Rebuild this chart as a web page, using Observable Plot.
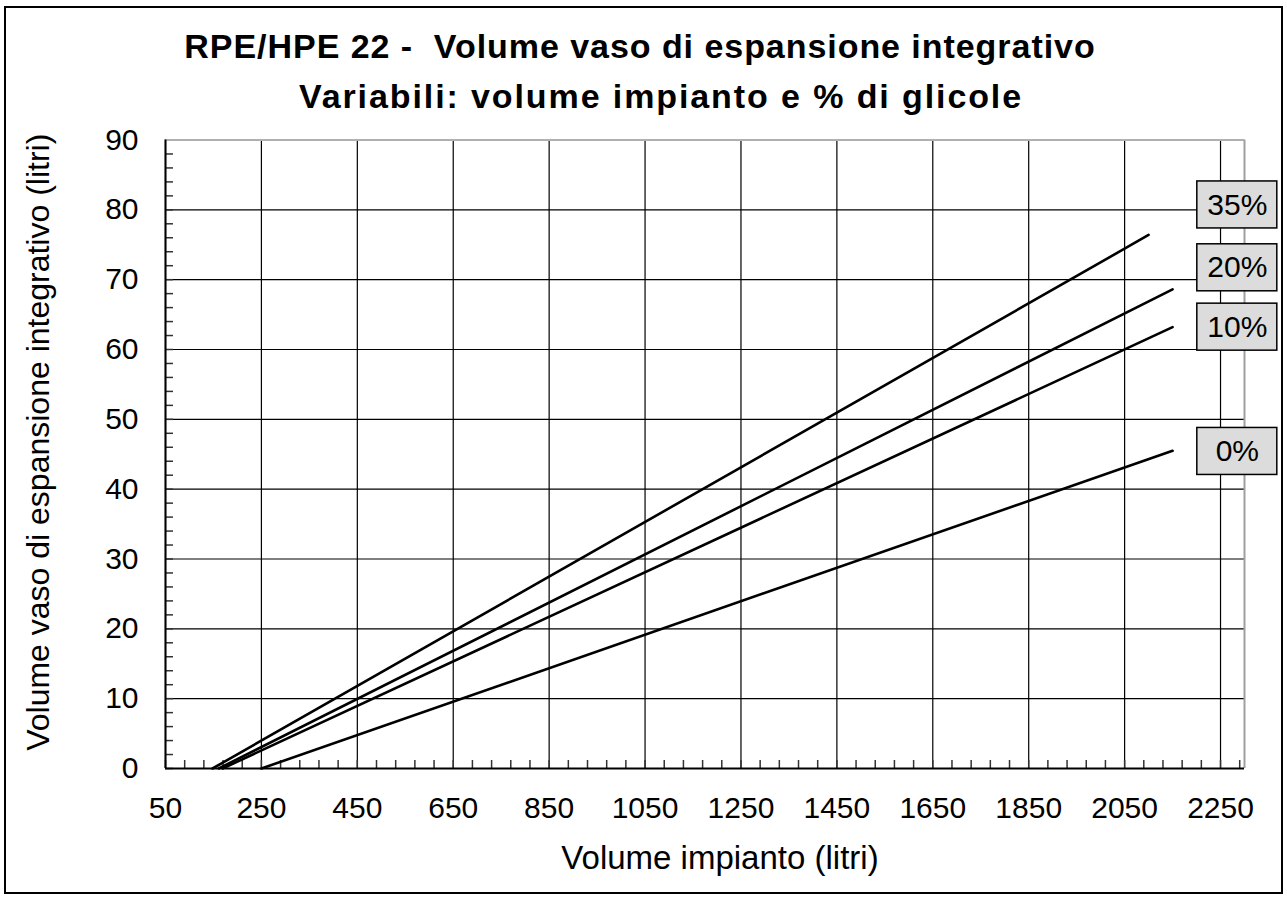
<!DOCTYPE html>
<html><head><meta charset="utf-8">
<script src="https://cdn.jsdelivr.net/npm/d3@7"></script>
<script src="https://cdn.jsdelivr.net/npm/@observablehq/plot@0.6"></script>
<style>
html,body{margin:0;padding:0;background:#fff;width:1287px;height:899px;overflow:hidden;font-family:"Liberation Sans",Arial,sans-serif;}
#frame{position:absolute;left:4px;top:6px;width:1279px;height:888px;border:2px solid #000;box-sizing:border-box;}
.title{position:absolute;width:1000px;text-align:center;font-weight:bold;font-size:34px;line-height:34px;white-space:pre;color:#000;}
#chart{position:absolute;left:0;top:120px;}
</style></head><body>
<div id="frame"></div>
<div class="title" id="t1" style="left:140px;top:29px;letter-spacing:0.95px;">RPE/HPE 22 -  Volume vaso di espansione integrativo</div>
<div class="title" id="t2" style="left:161px;top:79px;letter-spacing:1.9px;">Variabili: volume impianto e % di glicole</div>
<div id="chart"></div>
<script>
// ---- data ----
const series = ["0%", "10%", "20%", "35%"];
const startVolume = [250, 169, 161, 148];     // litri where each curve starts (value 0)
const endVolume = [2150, 2150, 2150, 2100];   // litri where each curve ends
const endValue = [45.5, 63.2, 68.6, 76.4];    // litri of vessel at end
const labelValue = [45.4, 63.2, 71.7, 80.7];  // label box vertical position (y units)
const labelVolume = 2285;                     // label box horizontal position (x units)
const xTicks = [50, 250, 450, 650, 850, 1050, 1250, 1450, 1650, 1850, 2050, 2250];
const yTicks = [0, 10, 20, 30, 40, 50, 60, 70, 80, 90];
const xMinor = d3.range(50, 2300, 40);
const yMinor = d3.range(0, 90, 2);

const lines = [];
series.forEach((s, i) => {
  lines.push({series: s, v: startVolume[i], e: 0});
  lines.push({series: s, v: endVolume[i], e: endValue[i]});
});
const labels = series.map((s, i) => ({series: s, v: labelVolume, e: labelValue[i]}));

const plot = Plot.plot({
  width: 1287,
  height: 770,
  marginLeft: 165,
  marginRight: 43,
  marginTop: 19.5,
  marginBottom: 122,
  x: {domain: [50, 2300], label: null, axis: null},
  y: {domain: [0, 90], label: null, axis: null},
  style: {fontFamily: "'Liberation Sans', Arial, sans-serif", fontSize: "30px", color: "#000", background: "transparent", overflow: "visible"},
  marks: [
    Plot.ruleX(xTicks, {stroke: "#000", strokeWidth: 1.2}),
    Plot.ruleY(yTicks.slice(1, -1), {stroke: "#000", strokeWidth: 1.2}),
    Plot.ruleY([90], {stroke: "#b0b0b0", strokeWidth: 2}),
    Plot.ruleX([2300], {stroke: "#a0a0a0", strokeWidth: 2}),
    Plot.axisX(xMinor, {tickSize: -8, tickFormat: () => "", label: null, stroke: "#333", strokeWidth: 1.5}),
    Plot.axisY(yMinor, {tickSize: -8, tickFormat: () => "", label: null, stroke: "#333", strokeWidth: 1.5}),
    Plot.axisX(xTicks, {tickSize: 0, tickPadding: 28, fontSize: 30, tickFormat: d => String(d), label: null}),
    Plot.axisY(yTicks, {tickSize: 0, tickPadding: 27, fontSize: 30, tickFormat: d => String(d), label: null}),
    Plot.ruleY([0], {stroke: "#000", strokeWidth: 2}),
    Plot.ruleX([50], {stroke: "#000", strokeWidth: 2}),
    Plot.line(lines, {x: "v", y: "e", z: "series", stroke: "#000", strokeWidth: 2.6}),
    Plot.text(labels, {x: "v", y: "e", text: "series", fontSize: 30, fill: "#000"}),
    Plot.text(["Volume impianto (litri)"], {text: d => d, frameAnchor: "bottom", textAnchor: "middle", lineAnchor: "middle", dy: 90, dx: 15, fontSize: 33}),
    Plot.text(["Volume vaso di espansione integrativo (litri)"], {text: d => d, frameAnchor: "left", textAnchor: "middle", lineAnchor: "middle", rotate: -90, dx: -127, dy: -12, fontSize: 32})
  ]
});
document.getElementById("chart").appendChild(plot);

// label boxes behind the percentage texts, positioned with the plot's scales
const xs = plot.scale("x"), ys = plot.scale("y");
const ns = "http://www.w3.org/2000/svg";
const texts = Array.from(plot.querySelectorAll("text")).filter(t => series.includes(t.textContent));
if (texts.length) {
  const group = texts[0].parentNode;
  labels.forEach(d => {
    const r = document.createElementNS(ns, "rect");
    const cx = xs.apply(d.v), cy = ys.apply(d.e);
    r.setAttribute("x", cx - 40);
    r.setAttribute("y", cy - 23.5);
    r.setAttribute("width", 80);
    r.setAttribute("height", 47);
    r.setAttribute("fill", "#dcdcdc");
    r.setAttribute("stroke", "#000");
    r.setAttribute("stroke-width", 1.5);
    group.parentNode.insertBefore(r, group);
  });
}
</script>
</body></html>
